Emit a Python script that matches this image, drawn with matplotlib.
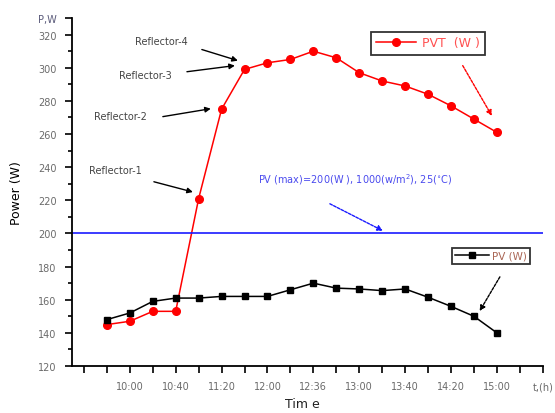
import matplotlib
matplotlib.use("Agg")
import matplotlib.pyplot as plt
from matplotlib.ticker import FixedLocator

# data: one point every 20 minutes, positions 1..18 on the time axis
pos = list(range(1, 19))
pvt = [145, 147, 153, 153, 221, 275, 299, 303, 305, 310, 306, 297, 292, 289, 284, 277, 269, 261]
pv = [148, 152, 159, 161, 161, 162, 162, 162, 166, 170, 167, 166.5, 165.5, 166.5, 161.5, 156, 150, 140]
pv_max = 200

tick_pos = list(range(0, 21))
tick_lab = {2: "10:00", 4: "10:40", 6: "11:20", 8: "12:00", 10: "12:36",
            12: "13:00", 14: "13:40", 16: "14:20", 18: "15:00", 20: "t,(h)"}
y_ticks = [120, 140, 160, 180, 200, 220, 240, 260, 280, 300, 320, 330]
y_labels = ["120", "140", "160", "180", "200", "220", "240", "260", "280", "300", "320", "P,W"]

label_col = "#6a6a6a"

fig = plt.figure(figsize=(5.55, 4.14), dpi=100)
ax = fig.add_axes([0.1297, 0.1135, 0.8483, 0.8405])

ax.plot(pos, pvt, color="red", marker="o", markersize=5.5, lw=1.1, label="PVT  (W )")
ax.plot(pos, pv, color="black", marker="s", markersize=5, lw=1.1, label="PV (W)")
ax.axhline(pv_max, color="#1a1aff", lw=1.2)

ax.set_xlim(-0.52, 20)
ax.set_ylim(120, 330)

## spines and ticks
for s in ("top", "right"):
    ax.spines[s].set_visible(False)
ax.spines["left"].set_linewidth(1.3)
ax.spines["bottom"].set_linewidth(1.3)

ax.set_xticks(tick_pos)
ax.set_xticklabels([tick_lab.get(i, "") for i in tick_pos])
ax.set_yticks(y_ticks)
ax.set_yticklabels(y_labels)
ax.yaxis.set_minor_locator(FixedLocator(list(range(130, 330, 20))))
ax.tick_params(axis="both", which="major", direction="out", length=5, width=1.2,
               labelsize=7, labelcolor=label_col, pad=6)
ax.tick_params(axis="y", which="minor", direction="out", length=3, width=1.2)
for lab in ax.get_yticklabels():
    if lab.get_text() == "P,W":
        lab.set_color("#5a5a7a")

ax.set_ylabel("Power (W)", fontsize=9, labelpad=6)
ax.yaxis.set_label_coords(-0.105, 0.5)
ax.set_xlabel("Tim e", fontsize=9, color="#222222")
ax.xaxis.set_label_coords(0.49, -0.088)

## legends
h = ax.get_lines()
leg1 = ax.legend([h[0]], ["PVT  (W )"], loc="center", bbox_to_anchor=(428 / 555, 1 - 44 / 414),
                 bbox_transform=fig.transFigure, frameon=True, fancybox=False,
                 fontsize=9, handlelength=3.2, borderpad=0.4, handletextpad=0.5,
                 borderaxespad=0)
leg1.get_frame().set_edgecolor("black")
leg1.get_frame().set_linewidth(1.3)
leg1.get_texts()[0].set_color("#ff5050")
ax.add_artist(leg1)
leg2 = ax.legend([h[1]], ["PV (W)"], loc="center", bbox_to_anchor=(491 / 555, 1 - 257 / 414),
                 bbox_transform=fig.transFigure, frameon=True, fancybox=False,
                 fontsize=7.5, handlelength=3.2, borderpad=0.3, handletextpad=0.3,
                 borderaxespad=0)
leg2.get_frame().set_edgecolor("black")
leg2.get_frame().set_linewidth(1.3)
leg2.get_texts()[0].set_color("#aa6655")

## annotations
txt = dict(fontsize=7, color="#444444", ha="center", va="center")
ax.text(3.36, 316.4, "Reflector-4", **txt)
ax.text(2.66, 295.8, "Reflector-3", **txt)
ax.text(1.61, 271.0, "Reflector-2", **txt)
ax.text(1.39, 238.4, "Reflector-1", **txt)
ax.text(7.58, 233, r"PV (max)=200(W ), 1000(w/m$^{2}$), 25($^{\circ}$C)",
        fontsize=7, color="#4a4aee", ha="left", va="center")

arrows = [
    ((5.14, 311.0), (6.71, 304.3), "black", "-"),
    ((4.49, 297.6), (6.58, 301.3), "black", "-"),
    ((3.44, 270.5), (5.53, 275.3), "black", "-"),
    ((3.05, 231.2), (4.75, 225.0), "black", "-"),
    ((16.51, 301.3), (17.78, 271.0), "red", (0, (2, 1))),
    ((10.72, 217.9), (13.03, 201.6), "#1a1aff", (0, (2, 1))),
    ((18.13, 173.8), (17.25, 153.2), "black", (0, (2, 1))),
]
for start, end, col, ls in arrows:
    ax.annotate("", xy=end, xytext=start,
                arrowprops=dict(arrowstyle="-|>", color=col, lw=1.0, linestyle=ls,
                                mutation_scale=8, shrinkA=0, shrinkB=0))

fig.savefig("out.png", dpi=100)
